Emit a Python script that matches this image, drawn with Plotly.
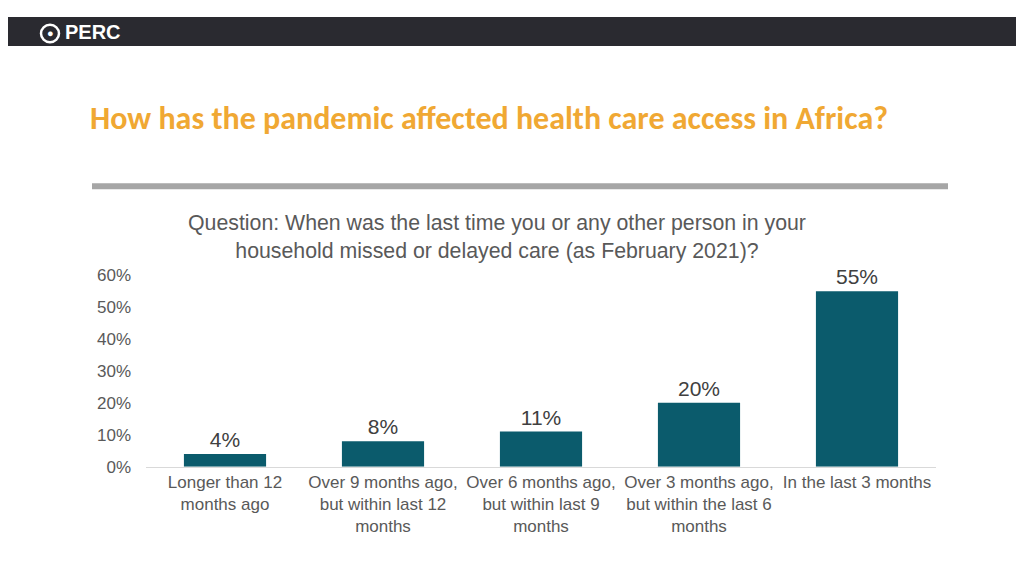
import plotly.graph_objects as go

# data
categories = [
    "Longer than 12<br>months ago",
    "Over 9 months ago,<br>but within last 12<br>months",
    "Over 6 months ago,<br>but within last 9<br>months",
    "Over 3 months ago,<br>but within the last 6<br>months",
    "In the last 3 months",
]
values = [4, 8, 11, 20, 55]
tick_vals = [0, 10, 20, 30, 40, 50, 60]
tick_text = ["0%", "10%", "20%", "30%", "40%", "50%", "60%"]

W, H = 1024, 576
BAR = "#0b5b6c"
GREY_TXT = "#595959"
FONT = "Liberation Sans, Arial, sans-serif"

fig = go.Figure()
fig.add_trace(go.Bar(
    x=categories,
    y=values,
    marker=dict(color=BAR, line=dict(width=0)),
    text=[f"{v}%" for v in values],
    textposition="outside",
    textfont=dict(family=FONT, size=21, color="#404040"),
    cliponaxis=False,
    showlegend=False,
))

fig.update_layout(
    width=W, height=H,
    margin=dict(l=0, r=0, t=0, b=0),
    paper_bgcolor="white",
    plot_bgcolor="white",
    bargap=0.48,
    xaxis=dict(
        domain=[138 / W, 928 / W],
        showline=True, linecolor="#d9d9d9", linewidth=1,
        tickfont=dict(family=FONT, size=17, color=GREY_TXT),
        ticks="", fixedrange=True,
    ),
    yaxis=dict(
        domain=[1 - 465 / H, 1 - 267 / H],
        range=[0, 60],
        tickvals=tick_vals, ticktext=tick_text,
        showgrid=False, zeroline=False, showline=False,
        tickfont=dict(family=FONT, size=17, color=GREY_TXT),
        ticklabelstandoff=14,
    ),
)

# top banner and divider
fig.add_shape(type="rect", xref="paper", yref="paper",
              x0=0, x1=1, y0=1 - 30 / H, y1=1,
              fillcolor="#2a2a30", line_width=0, layer="below")
fig.add_shape(type="rect", xref="paper", yref="paper",
              x0=84 / W, x1=940 / W, y0=1 - 178 / H, y1=1 - 172 / H,
              fillcolor="#a6a6a6", line_width=0)

# logo
fig.add_shape(type="circle", xref="paper", yref="paper",
              x0=33 / W, x1=51 / W, y0=1 - 26 / H, y1=1 - 8 / H,
              line=dict(color="white", width=2.5))
fig.add_annotation(x=42 / W, y=1 - 17 / H, xref="paper", yref="paper",
                   text="●", showarrow=False, xanchor="center", yanchor="middle",
                   font=dict(family=FONT, size=11, color="white"))
fig.add_annotation(x=55 / W, y=1 - 16 / H, xref="paper", yref="paper",
                   text="<b>PERC</b>", showarrow=False, xanchor="left", yanchor="middle",
                   font=dict(family=FONT, size=20, color="white"))

# title
fig.add_annotation(x=80 / W, y=1 - 105 / H, xref="paper", yref="paper",
                   text="<b>How has the pandemic affected health care access in Africa?</b>",
                   showarrow=False, xanchor="left", yanchor="middle",
                   font=dict(family="Carlito, Lato, sans-serif", size=32, color="#f0a833"))

# chart title
fig.add_annotation(x=489 / W, y=1 - 228 / H, xref="paper", yref="paper",
                   text="Question: When was the last time you or any other person in your<br>household missed or delayed care (as February 2021)?",
                   showarrow=False, align="center", xanchor="center", yanchor="middle",
                   font=dict(family=FONT, size=21.3, color=GREY_TXT))

fig.write_html("out.html")
